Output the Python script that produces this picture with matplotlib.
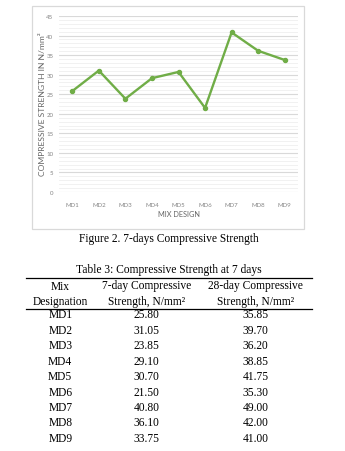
import matplotlib
matplotlib.use("Agg")
import matplotlib.pyplot as plt
from matplotlib.patches import Rectangle
from matplotlib.lines import Line2D

# Mix designs and compressive strengths (N/mm²)
mixes = ["MD1", "MD2", "MD3", "MD4", "MD5", "MD6", "MD7", "MD8", "MD9"]
strength_7day = [25.80, 31.05, 23.85, 29.10, 30.70, 21.50, 40.80, 36.10, 33.75]
strength_28day = [35.85, 39.70, 36.20, 38.85, 41.75, 35.30, 49.00, 42.00, 41.00]
y_ticks = [0, 5, 10, 15, 20, 25, 30, 35, 40, 45]

W, H = 345, 452
fig = plt.figure(figsize=(W / 100, H / 100), dpi=100)
fig.patch.set_facecolor("white")


def fx(px):
    return px / W


def fy(py):
    return 1 - py / H


# Chart frame
fig.patches.append(Rectangle((fx(32), fy(230)), fx(304) - fx(32), fy(7) - fy(230),
                             transform=fig.transFigure, fill=False,
                             edgecolor="#d9d9d9", linewidth=0.9))

ax = fig.add_axes([fx(59), fy(193), fx(298) - fx(59), fy(17) - fy(193)])
x = list(range(len(mixes)))
ax.plot(x, strength_7day, color="#70ad47", linewidth=1.7, marker="o",
        markersize=2.9, zorder=3)
ax.set_xlim(-0.5, len(mixes) - 0.5)
ax.set_ylim(0, 45)
ax.set_yticks(y_ticks)
ax.set_yticks(range(0, 46), minor=True)
ax.set_xticks(x)
ax.set_xticklabels(mixes)
ax.grid(axis="y", which="major", color="#d9d9d9", linewidth=0.8)
ax.grid(axis="y", which="minor", color="#efefef", linewidth=0.6)
ax.set_axisbelow(True)
for s in ax.spines.values():
    s.set_visible(False)
ax.tick_params(axis="both", which="both", length=0, labelsize=4.4,
               labelcolor="#858585")
ax.tick_params(axis="y", pad=4)
ax.tick_params(axis="x", pad=7)
for lab in ax.get_xticklabels() + ax.get_yticklabels():
    lab.set_family("Lato")

fig.text(fx(43), fy(104), "COMPRESSIVE STRENGTH IN N/mm²", rotation=90,
         ha="center", va="center", fontsize=6.1, color="#666666", family="Lato")
fig.text(fx(179), fy(215), "MIX DESIGN", ha="center", va="center",
         fontsize=5.3, color="#666666", family="Lato")

serif = "Liberation Serif"
fs = 8.3
fig.text(fx(169), fy(239.5), "Figure 2. 7-days Compressive Strength",
         ha="center", va="center", fontsize=fs, family=serif)
fig.text(fx(169), fy(270.5), "Table 3: Compressive Strength at 7 days",
         ha="center", va="center", fontsize=fs, family=serif)

# Table rules
for yy in (279.3, 310):
    fig.add_artist(Line2D([fx(26), fx(312)], [fy(yy), fy(yy)],
                          transform=fig.transFigure, color="black",
                          linewidth=0.9))

col_x = [60.3, 146.5, 255.5]
headers = [("Mix", "Designation"),
           ("7-day Compressive", "Strength, N/mm²"),
           ("28-day Compressive", "Strength, N/mm²")]
for cx, (h1, h2) in zip(col_x, headers):
    fig.text(fx(cx), fy(286.5), h1, ha="center", va="center", fontsize=fs,
             family=serif)
    fig.text(fx(cx), fy(302), h2, ha="center", va="center", fontsize=fs,
             family=serif)

row_y0, row_dy = 315.5, 15.4
for i, (m, a, b) in enumerate(zip(mixes, strength_7day, strength_28day)):
    yy = row_y0 + i * row_dy
    fig.text(fx(col_x[0]), fy(yy), m, ha="center", va="center", fontsize=fs,
             family=serif)
    fig.text(fx(col_x[1]), fy(yy), f"{a:.2f}", ha="center", va="center",
             fontsize=fs, family=serif)
    fig.text(fx(col_x[2]), fy(yy), f"{b:.2f}", ha="center", va="center",
             fontsize=fs, family=serif)

fig.savefig("out.png", dpi=100, facecolor="white")
